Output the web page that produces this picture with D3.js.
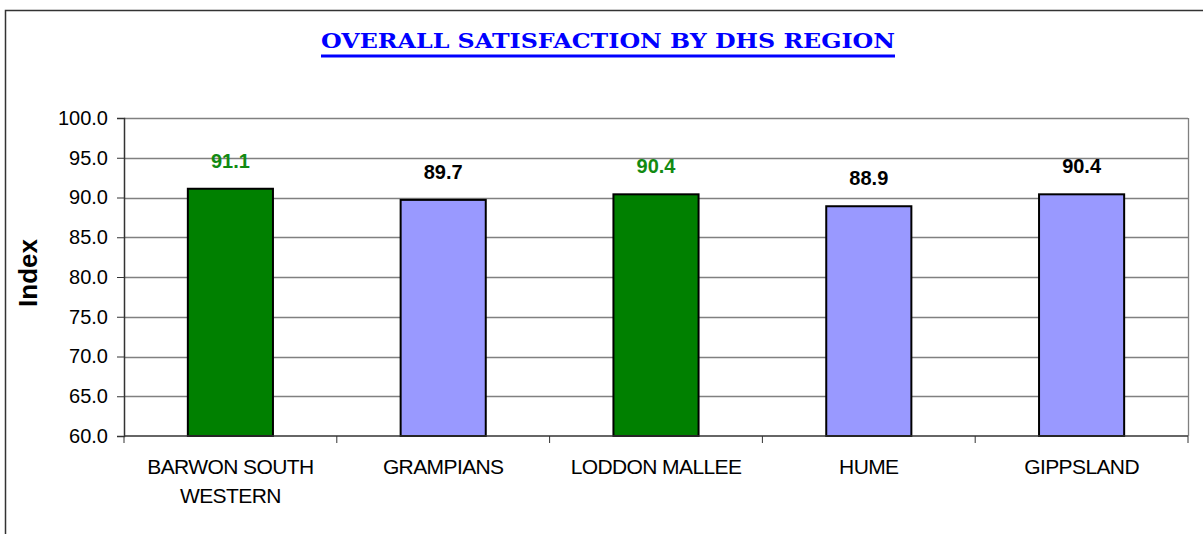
<!DOCTYPE html>
<html>
<head>
<meta charset="utf-8">
<script src="https://cdn.jsdelivr.net/npm/d3@7"></script>
<style>
  body { margin: 0; background: #fff; }
  svg { display: block; }
</style>
</head>
<body>
<div id="chart"></div>
<script>
var regions = ["BARWON SOUTH WESTERN", "GRAMPIANS", "LODDON MALLEE", "HUME", "GIPPSLAND"];
var regionLines = [["BARWON SOUTH", "WESTERN"], ["GRAMPIANS"], ["LODDON MALLEE"], ["HUME"], ["GIPPSLAND"]];
var scores = [91.1, 89.7, 90.4, 88.9, 90.4];
var highlighted = [true, false, true, false, false];
var yTicks = [60, 65, 70, 75, 80, 85, 90, 95, 100];

var width = 1203, height = 534;
var margin = { top: 118, right: 15, bottom: 98, left: 124 };
var innerW = width - margin.left - margin.right;
var innerH = height - margin.top - margin.bottom;
var sans = "Liberation Sans, Arial, sans-serif";

var svg = d3.select("#chart").append("svg")
    .attr("width", width)
    .attr("height", height);

// outer frame (only top and left visible)
svg.append("path")
    .attr("d", "M5.5,534 L5.5,10.5 L1203,10.5")
    .attr("fill", "none")
    .attr("stroke", "#333")
    .attr("stroke-width", 1.5);

// title, stretched to the reference width, underline drawn by hand
var titleX0 = 321, titleX1 = 895;
svg.append("text")
    .attr("x", titleX0)
    .attr("y", 48)
    .attr("font-family", "DejaVu Serif, serif")
    .attr("font-weight", "bold")
    .attr("font-size", 21)
    .attr("fill", "#0000ff")
    .attr("textLength", titleX1 - titleX0)
    .attr("lengthAdjust", "spacingAndGlyphs")
    .text("OVERALL SATISFACTION BY DHS REGION");
svg.append("line")
    .attr("x1", titleX0).attr("x2", titleX1)
    .attr("y1", 56).attr("y2", 56)
    .attr("stroke", "#0000ff")
    .attr("stroke-width", 3);

var g = svg.append("g")
    .attr("transform", `translate(${margin.left},${margin.top})`);

var x = d3.scaleBand()
    .domain(regions)
    .range([0, innerW])
    .paddingInner(0.6)
    .paddingOuter(0.3);

var xb = d3.scaleBand()
    .domain(regions)
    .range([0, innerW]);

var y = d3.scaleLinear()
    .domain([60, 100])
    .range([innerH, 0]);

// gridlines
g.append("g")
    .selectAll("line")
    .data(yTicks.filter(function(d) { return d > 60; }))
    .enter().append("line")
    .attr("x1", 0)
    .attr("x2", innerW)
    .attr("y1", function(d) { return Math.round(y(d)) + 0.5; })
    .attr("y2", function(d) { return Math.round(y(d)) + 0.5; })
    .attr("stroke", "#808080")
    .attr("stroke-width", 1.3);

// right border of plot area
g.append("line")
    .attr("x1", innerW + 0.5).attr("x2", innerW + 0.5)
    .attr("y1", 0).attr("y2", innerH)
    .attr("stroke", "#808080")
    .attr("stroke-width", 1.3);

// bars
g.selectAll("rect.bar")
    .data(scores)
    .enter().append("rect")
    .attr("class", "bar")
    .attr("x", function(d, i) { return x(regions[i]); })
    .attr("y", function(d) { return y(d); })
    .attr("width", x.bandwidth())
    .attr("height", function(d) { return innerH - y(d); })
    .attr("fill", function(d, i) { return highlighted[i] ? "#008000" : "#9999ff"; })
    .attr("stroke", "#000")
    .attr("stroke-width", 2);

// value labels
g.selectAll("text.val")
    .data(scores)
    .enter().append("text")
    .attr("class", "val")
    .attr("x", function(d, i) { return x(regions[i]) + x.bandwidth() / 2; })
    .attr("y", function(d) { return y(d) - 21; })
    .attr("text-anchor", "middle")
    .attr("font-family", sans)
    .attr("font-weight", "bold")
    .attr("font-size", 20)
    .attr("fill", function(d, i) { return highlighted[i] ? "#128a12" : "#000"; })
    .text(function(d) { return d.toFixed(1); });

// y axis
var yAxis = g.append("g")
    .call(d3.axisLeft(y).tickValues(yTicks).tickSize(7).tickPadding(9).tickFormat(d3.format(".1f")));
yAxis.select(".domain").attr("stroke", "#333").attr("stroke-width", 1.5);
yAxis.selectAll(".tick line").attr("stroke", "#333");
yAxis.selectAll("text")
    .attr("font-family", sans)
    .attr("font-size", 20)
    .attr("fill", "#000");

// x axis baseline and category boundary ticks
var xAxis = g.append("g")
    .attr("transform", `translate(0,${innerH})`);
xAxis.append("line")
    .attr("x1", 0).attr("x2", innerW)
    .attr("stroke", "#333").attr("stroke-width", 1.5);
xAxis.selectAll("line.tick")
    .data(regions.concat(["end"]))
    .enter().append("line")
    .attr("class", "tick")
    .attr("x1", function(d, i) { return i * xb.bandwidth(); })
    .attr("x2", function(d, i) { return i * xb.bandwidth(); })
    .attr("y1", 0).attr("y2", 7)
    .attr("stroke", "#333");

var labels = xAxis.selectAll("text.cat")
    .data(regionLines)
    .enter().append("text")
    .attr("class", "cat")
    .attr("text-anchor", "middle")
    .attr("font-family", sans)
    .attr("font-size", 21)
    .attr("letter-spacing", "-0.6")
    .attr("fill", "#000")
    .attr("transform", function(d, i) {
        return `translate(${xb(regions[i]) + xb.bandwidth() / 2},38)`;
    });
labels.selectAll("tspan")
    .data(function(d) { return d; })
    .enter().append("tspan")
    .attr("x", 0)
    .attr("dy", function(d, i) { return i === 0 ? 0 : 29; })
    .text(function(d) { return d; });

// y axis title
svg.append("text")
    .attr("transform", "translate(37,273) rotate(-90)")
    .attr("text-anchor", "middle")
    .attr("font-family", sans)
    .attr("font-weight", "bold")
    .attr("font-size", 26)
    .attr("fill", "#000")
    .text("Index");
</script>
</body>
</html>
